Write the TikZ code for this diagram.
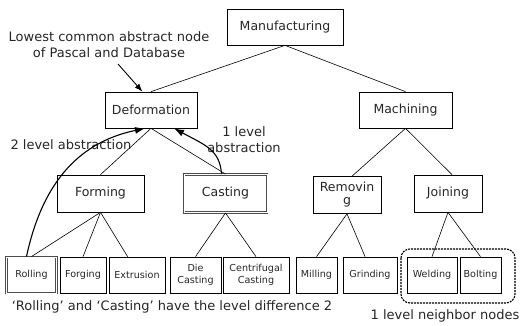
\documentclass[tikz,border=0pt]{standalone}
\usepackage{fontspec}
\setmainfont{DejaVu Sans}
\usetikzlibrary{arrows.meta}
\tikzset{box/.style={draw,line width=0.7pt,inner sep=0pt,minimum height=36pt,text=black!85,font=\fontsize{12.5}{14}\selectfont},
  leaf/.style={box,align=center,font=\fontsize{9.6}{12}\selectfont},
  pick/.style={double,double distance=0.6pt,draw=black!70,line width=0.9pt},
  edge/.style={line width=0.6pt},
  lbl/.style={align=center,text=black!85,font=\fontsize{13}{16}\selectfont},
  abst/.style={-{Latex[length=10pt,width=7pt]},line width=1.1pt}}

\begin{document}
\begin{tikzpicture}[x=1pt,y=-1pt]
\useasboundingbox (0,0) rectangle (520,326);
\node[box,minimum width=116pt] (manu) at (285,27) {Manufacturing};
\node[box,minimum width=92pt] (deform) at (151,110) {Deformation};
\node[box,minimum width=93pt] (mach) at (405.5,110) {Machining};
\node[box,minimum width=87pt,minimum height=37pt] (forming) at (100.5,193.5) {Forming};
\node[box,pick,minimum width=83pt,minimum height=38pt] (casting) at (225.5,193.5) {Casting};
\node[box,align=center,minimum width=68pt,minimum height=37pt] (removing) at (347,195) {Removin\\[-1pt]g};
\node[box,minimum width=68pt,minimum height=37pt] (joining) at (448,193.5) {Joining};
\node[leaf,pick,minimum width=50pt] (rolling) at (31.5,275) {Rolling};
\node[leaf,minimum width=46pt] (forging) at (83,275) {Forging};
\node[leaf,minimum width=56pt] (extrusion) at (137,275) {Extrusion};
\node[leaf,minimum width=51pt] (diecast) at (195.5,275) {Die\\Casting};
\node[leaf,minimum width=66pt] (centri) at (256,275) {Centrifugal\\Casting};
\node[leaf,minimum width=41pt] (milling) at (316.5,275) {Milling};
\node[leaf,minimum width=54pt] (grinding) at (370,275) {Grinding};
\node[leaf,minimum width=50pt] (welding) at (432,275) {Welding};
\node[leaf,minimum width=41pt] (bolting) at (480.5,275) {Bolting};
\draw[edge] (manu.south) -- (deform.north);
\draw[edge] (manu.south) -- (mach.north);
\draw[edge] (deform.south) -- (forming.north);
\draw[edge] (deform.south) -- (casting.north);
\draw[edge] (mach.south) -- (removing.75);
\draw[edge] (mach.south) -- (joining.78);
\draw[edge] (forming.south) -- (rolling.north);
\draw[edge] (forming.south) -- (forging.north);
\draw[edge] (forming.south) -- (extrusion.117);
\draw[edge] (casting.south) -- (diecast.north);
\draw[edge] (casting.south) -- (centri.north);
\draw[edge] (removing.south) -- (milling.north);
\draw[edge] (removing.south) -- (grinding.105);
\draw[edge] (joining.south) -- (welding.north);
\draw[edge] (joining.south) -- (bolting.north);
\draw[line width=1.1pt,dash pattern=on 2pt off 1pt,rounded corners=9pt] (401,249) rectangle (515,303);
\node[lbl] (lowest) at (109,45) {Lowest common abstract node\\of Pascal and Database};
\coordinate (lowtail) at (118,64);
\draw[-{Latex[length=8pt,width=6pt]},line width=0.9pt] (lowtail) -- (deform.115);
\node[lbl] (twolvl) at (71,145) {2 level abstraction};
\node[lbl] (onelvl) at (244,140) {1 level\\abstraction};
\draw[abst] ([xshift=-5pt]rolling.north) .. controls (45,170) and (90,140) .. ([xshift=-6pt]deform.south);
\draw[abst] ([xshift=-4pt]casting.north) .. controls (220,150) and (205,145) .. ([xshift=23pt]deform.south);
\node[lbl] (diff) at (172,307) {‘Rolling’ and ‘Casting’ have the level difference 2};
\node[lbl] (neigh) at (445,316) {1 level neighbor nodes};
\end{tikzpicture}
\end{document}
